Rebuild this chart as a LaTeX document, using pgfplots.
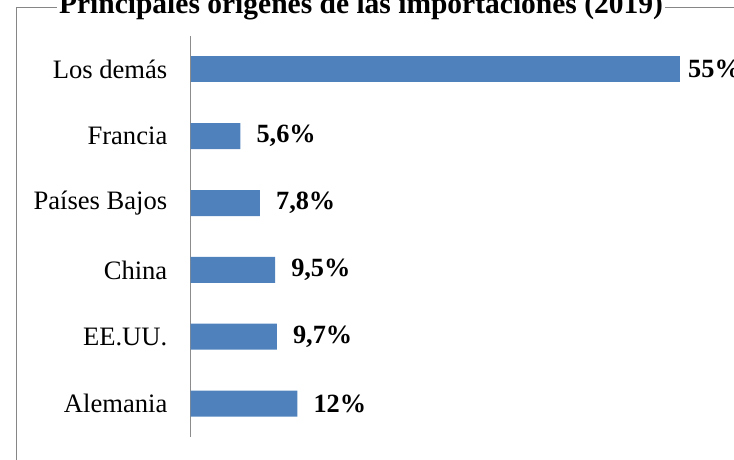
\documentclass[border=0pt]{standalone}
\usepackage{fontspec}
\setmainfont{Liberation Serif}
\usepackage{pgfplots}
\pgfplotsset{compat=1.18}
\definecolor{barblue}{HTML}{4F81BD}
\definecolor{framegray}{HTML}{868686}
\definecolor{axisgray}{HTML}{8C8C8C}
\begin{document}
\begin{tikzpicture}
\path[use as bounding box] (0,0) rectangle (734bp,460bp);
\clip (0,0) rectangle (734bp,460bp);
\draw[framegray, line width=1.5bp] (16.5bp,-20bp) -- (16.5bp,452.5bp) -- (800bp,452.5bp);
\node[fill=white, inner sep=2bp, anchor=base, font=\fontsize{29.5bp}{34bp}\selectfont\bfseries] at (361bp,446.5bp) {Principales orígenes de las importaciones (2019)};
\begin{axis}[
  at={(190.5bp,23bp)}, anchor=south west,
  scale only axis, width=534bp, height=401bp,
  xmin=0, xmax=60, ymin=-0.5, ymax=5.5,
  axis x line=none,
  axis y line*=left,
  axis line style={axisgray, line width=1.5bp},
  ytick={0,1,2,3,4,5},
  yticklabels={Alemania, EE.UU., China, Países Bajos, Francia, Los demás},
  major tick length=0pt,
  ytick style={draw=none},
  yticklabel style={anchor=east, inner sep=0pt, xshift=-23bp, font=\fontsize{26.6bp}{31bp}\selectfont},
  xbar, bar width=26bp, bar shift=0pt,
  point meta=explicit symbolic,
  nodes near coords,
  every node near coord/.append style={anchor=west, inner sep=0pt, font=\fontsize{26.3bp}{31bp}\selectfont\bfseries, black},
  clip=false,
]
\addplot[fill=barblue, draw=none, every node near coord/.append style={xshift=16bp}] coordinates {
  (12,0) [12\%]
  (9.7,1) [{9,7\%}]
  (9.5,2) [{9,5\%}]
  (7.8,3) [{7,8\%}]
  (5.6,4) [{5,6\%}]
};
\addplot[fill=barblue, draw=none, every node near coord/.append style={xshift=8bp}] coordinates {
  (55,5) [55\%]
};
\end{axis}
\end{tikzpicture}
\end{document}
